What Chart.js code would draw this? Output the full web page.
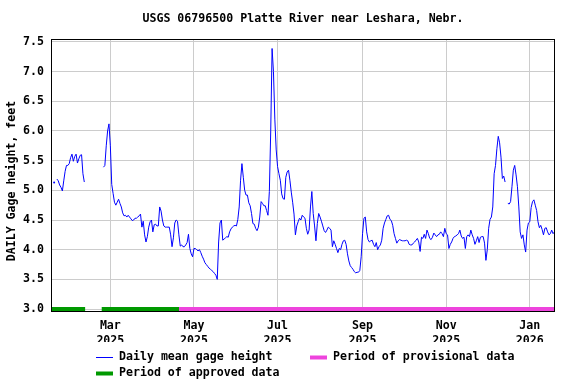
<!DOCTYPE html>
<html>
<head>
<meta charset="utf-8">
<script src="https://cdn.jsdelivr.net/npm/chart.js@4/dist/chart.umd.min.js"></script>
<style>
  html, body { margin: 0; padding: 0; background: #fff; }
</style>
</head>
<body>
<canvas id="myChart" width="576" height="384"></canvas>
<script>
//DATA
//day numbers count from Jan 1 2025 (= day 0)
var firstDay = 15;
var gageHeight = [
  5.33, 5.33, null, 5.13, null,
  5.19, 5.16, 5.09, 5.05, 4.99, 5.16, 5.32, 5.42, 5.42, 5.45,
  5.55, 5.61, 5.49, 5.57, 5.61, 5.46, 5.53, 5.59, 5.60, 5.28,
  5.14, null, null, null, null, null, null, null, null, null,
  null, null, null, null, 5.39, 5.42, 5.75, 6.00, 6.12, 5.75,
  5.10, 4.95, 4.80, 4.75, 4.80, 4.85, 4.78, 4.72, 4.62, 4.57,
  4.58, 4.55, 4.58, 4.55, 4.52, 4.49, 4.50, 4.53, 4.53, 4.55,
  4.57, 4.60, 4.38, 4.48, 4.25, 4.13, 4.22, 4.38, 4.47, 4.50,
  4.30, 4.42, 4.43, 4.40, 4.40, 4.72, 4.65, 4.50, 4.40, 4.38,
  4.38, 4.38, 4.38, 4.25, 4.05, 4.20, 4.45, 4.50, 4.48, 4.25,
  4.06, 4.08, 4.05, 4.05, 4.08, 4.12, 4.26, 4.02, 3.93, 3.88,
  4.02, 4.02, 4.00, 3.98, 4.00, 3.95, 3.89, 3.84, 3.78, 3.75,
  3.72, 3.69, 3.67, 3.65, 3.63, 3.60, 3.57, 3.50, 4.13, 4.45,
  4.50, 4.16, 4.18, 4.20, 4.22, 4.21, 4.30, 4.35, 4.38, 4.40,
  4.41, 4.40, 4.51, 4.72, 5.17, 5.45, 5.22, 5.00, 4.92, 4.92,
  4.79, 4.74, 4.61, 4.44, 4.43, 4.36, 4.32, 4.38, 4.55, 4.81,
  4.78, 4.74, 4.74, 4.66, 4.58, 4.98, 6.00, 7.39, 7.00, 6.20,
  5.68, 5.40, 5.28, 5.17, 4.94, 4.86, 4.85, 5.22, 5.31, 5.34,
  5.17, 4.97, 4.80, 4.60, 4.25, 4.40, 4.47, 4.53, 4.50, 4.58,
  4.55, 4.53, 4.36, 4.26, 4.33, 4.72, 4.98, 4.61, 4.40, 4.15,
  4.44, 4.61, 4.55, 4.48, 4.40, 4.32, 4.29, 4.33, 4.38, 4.36,
  4.33, 4.05, 4.15, 4.09, 4.02, 3.95, 4.02, 4.00, 4.09, 4.15,
  4.16, 4.09, 3.93, 3.81, 3.73, 3.70, 3.67, 3.63, 3.61, 3.62,
  3.62, 3.65, 3.88, 4.27, 4.53, 4.55, 4.30, 4.17, 4.13, 4.15,
  4.16, 4.09, 4.05, 4.12, 4.00, 4.05, 4.08, 4.16, 4.36, 4.45,
  4.51, 4.57, 4.58, 4.51, 4.49, 4.41, 4.27, 4.19, 4.11, 4.15,
  4.17, 4.16, 4.15, 4.15, 4.15, 4.16, 4.15, 4.09, 4.08, 4.08,
  4.11, 4.13, 4.16, 4.19, 4.13, 3.97, 4.21, 4.19, 4.26, 4.19,
  4.33, 4.27, 4.19, 4.17, 4.21, 4.28, 4.25, 4.22, 4.25, 4.26,
  4.30, 4.27, 4.22, 4.36, 4.27, 4.25, 4.02, 4.09, 4.13, 4.19,
  4.22, 4.23, 4.25, 4.27, 4.33, 4.23, 4.19, 4.21, 4.02, 4.22,
  4.25, 4.22, 4.33, 4.25, 4.19, 4.09, 4.15, 4.22, 4.12, 4.21,
  4.22, 4.22, 4.11, 3.82, 4.00, 4.36, 4.51, 4.55, 4.72, 5.28,
  5.42, 5.70, 5.91, 5.80, 5.56, 5.20, 5.24, 5.14, null, 4.78,
  4.77, 4.81, 5.06, 5.34, 5.42, 5.26, 5.06, 4.72, 4.30, 4.19,
  4.25, 4.08, 3.96, 4.33, 4.45, 4.47, 4.71, 4.81, 4.84, 4.75,
  4.66, 4.47, 4.37, 4.41, 4.34, 4.25, 4.36, 4.37, 4.30, 4.25,
  4.27, 4.33, 4.27, 4.30
];
//approval periods [from day, to day]
var approvedPeriods = [[15.7, 40.6], [52.7, 109.1]];
var provisionalPeriods = [[109.1, 383.4]];
var dayMin = 15.7, dayMax = 383.4;

//x ticks (first of month) and y ticks
var monthTickDays = [59, 120, 181, 243, 304, 365];
var monthTickLabels = [["Mar", "2025"], ["May", "2025"], ["Jul", "2025"], ["Sep", "2025"], ["Nov", "2025"], ["Jan", "2026"]];
var heightTicks = [3.0, 3.5, 4.0, 4.5, 5.0, 5.5, 6.0, 6.5, 7.0, 7.5];

var FONT = "'DejaVu Sans Mono', monospace";
var yTitle = 'DAILY Gage height, feet';

//build points
var linePts = gageHeight.map(function(v, i) { return {x: firstDay + i, y: v}; });

function periodPts(periods) {
  var pts = [];
  periods.forEach(function(p, i) {
    if (i > 0) pts.push({x: p[0] - 0.5, y: null});
    pts.push({x: p[0], y: 3.0});
    pts.push({x: p[1], y: 3.0});
  });
  return pts;
}

//frame around plot
var framePlugin = {
  id: 'frame',
  afterDatasetsDraw: function(chart) {
    var a = chart.chartArea, c = chart.ctx;
    c.save();
    c.strokeStyle = '#000';
    c.lineWidth = 1;
    c.strokeRect(Math.round(a.left) + 0.5, Math.round(a.top) + 0.5,
      Math.round(a.right - a.left) - 1, Math.round(a.bottom - a.top) - 1);
    c.restore();
  }
};

//legend + y title like the usgs one
var legendPlugin = {
  id: 'usgsLegend',
  afterDraw: function(chart) {
    var spots = [{ds: 0, x: 96, y: 357}, {ds: 1, x: 310, y: 357}, {ds: 2, x: 96, y: 373}];
    var c = chart.ctx;
    c.save();
    c.font = 'bold 11.6px ' + FONT;
    c.textBaseline = 'middle';
    c.fillStyle = '#000';
    spots.forEach(function(s) {
      var ds = chart.data.datasets[s.ds];
      c.strokeStyle = ds.borderColor;
      c.lineWidth = ds.borderWidth;
      c.beginPath();
      c.moveTo(s.x, s.y + 0.5);
      c.lineTo(s.x + 17, s.y + 0.5);
      c.stroke();
      c.fillText(ds.label, s.x + 23, s.y);
    });
    //y axis title (sits a bit below plot centre in the original)
    c.translate(11.5, 181);
    c.rotate(-Math.PI / 2);
    c.textAlign = 'center';
    c.fillText(yTitle, 0, 0);
    c.restore();
  }
};

var ctx = document.getElementById('myChart').getContext('2d');
var myChart = new Chart(ctx, {
  type: 'line',
  data: {
    datasets: [{
      label: 'Daily mean gage height',
      data: linePts,
      borderColor: '#0000ff',
      borderWidth: 1,
      tension: 0,
      spanGaps: false,
      pointRadius: function(c) {
        var d = c.dataset.data, i = c.dataIndex;
        var prev = d[i - 1], next = d[i + 1];
        var lone = (!prev || prev.y == null) && (!next || next.y == null);
        return lone ? 1 : 0;
      },
      pointBackgroundColor: '#0000ff',
      pointBorderWidth: 0,
      order: 2
    }, {
      label: 'Period of provisional data',
      data: periodPts(provisionalPeriods),
      borderColor: '#ee44dd',
      borderWidth: 4,
      borderCapStyle: 'butt',
      pointRadius: 0,
      spanGaps: false,
      order: 1
    }, {
      label: 'Period of approved data',
      data: periodPts(approvedPeriods),
      borderColor: '#009900',
      borderWidth: 4,
      borderCapStyle: 'butt',
      pointRadius: 0,
      spanGaps: false,
      order: 1
    }]
  },
  options: {
    responsive: false,
    animation: false,
    events: [],
    devicePixelRatio: 1,
    layout: { padding: { left: 0, right: 21, top: 0, bottom: 42 } },
    plugins: {
      legend: { display: false },
      tooltip: { enabled: false },
      title: {
        display: true,
        text: 'USGS 06796500 Platte River near Leshara, Nebr.',
        color: '#000',
        fullSize: false,
        font: { family: FONT, size: 11.6, weight: 'bold', lineHeight: '14px' },
        padding: { top: 12, bottom: 13 }
      }
    },
    scales: {
      x: {
        type: 'linear',
        min: dayMin,
        max: dayMax,
        afterBuildTicks: function(s) {
          s.ticks = monthTickDays.map(function(v) { return {value: v}; });
        },
        afterFit: function(s) { s.height = 30; },
        grid: { color: '#cccccc', drawTicks: false },
        border: { display: false },
        ticks: {
          color: '#000',
          padding: 6,
          maxRotation: 0,
          autoSkip: false,
          font: { family: FONT, size: 11.6, weight: 'bold', lineHeight: '15px' },
          callback: function(v, i) { return monthTickLabels[i]; }
        }
      },
      y: {
        min: 2.95,
        max: 7.55,
        afterBuildTicks: function(s) {
          s.ticks = heightTicks.map(function(v) { return {value: v}; });
        },
        afterFit: function(s) { s.width = 51; },
        grid: { color: '#cccccc', drawTicks: false },
        border: { display: false },
        ticks: {
          color: '#000',
          padding: 7,
          font: { family: FONT, size: 11.6, weight: 'bold' },
          callback: function(v) { return v.toFixed(1); }
        }
      }
    }
  },
  plugins: [framePlugin, legendPlugin]
});
</script>
</body>
</html>
